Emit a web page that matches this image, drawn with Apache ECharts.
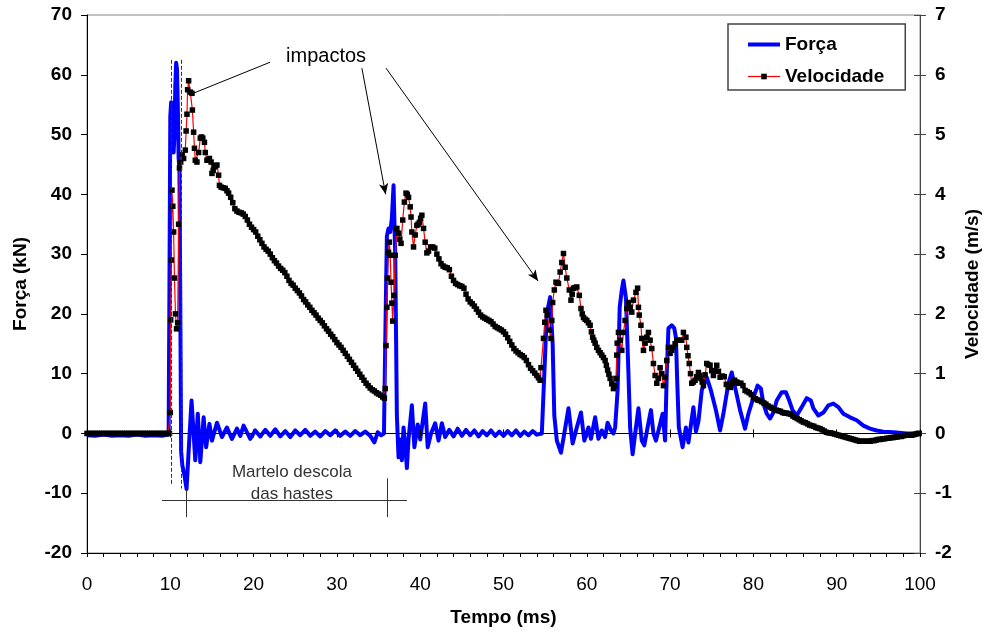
<!DOCTYPE html>
<html><head><meta charset="utf-8">
<script src="https://cdn.jsdelivr.net/npm/echarts@6/dist/echarts.min.js"></script>
<style>html,body{margin:0;padding:0;background:#fff}#c{width:986px;height:634px}</style>
</head><body><div id="c"></div>
<script>
const FONT = '"Liberation Sans", Arial, sans-serif';

// Tempo (ms), Força (kN)
const forcaData = [
[0,-0.3],[1,-0.4],[2,-0.2],[3,-0.4],[4,-0.3],[5,-0.4],[6,-0.2],[7,-0.4],[8,-0.3],[9,-0.4],[9.8,-0.2],
[9.9,25],[10.0,53],[10.1,55.4],[10.2,55],[10.3,52],[10.4,47],[10.5,50],[10.6,58],[10.7,62],[10.8,61],[10.9,55],
[11.0,46],[11.1,44],[11.2,22],[11.3,-3],[11.45,-5.4],[11.7,-7],[11.95,-9.3],[12.2,-3],[12.55,5.5],[12.8,0],
[13.0,-4.5],[13.3,3.3],[13.6,-4.8],[14.0,2.7],[14.3,-2.3],[14.7,1.6],[15.0,-1.2],[15.6,1.8],[16.2,-0.6],[16.8,1.0],
[17.4,-0.9],[18.0,0.8],[18.4,-0.4],[18.8,1.3],[19.6,-0.9],[20.2,0.5],[20.8,-0.5],[21.4,0.6],[22.0,-0.4],[22.6,0.7],
[23.2,-0.5],[23.8,0.4],[24.4,-0.6],[25.0,0.5],[25.6,-0.3],[26.2,0.6],[26.8,-0.4],[27.4,0.3],[28.0,-0.5],[28.6,0.4],
[29.2,-0.3],[29.8,0.5],[30.4,-0.4],[31.0,0.3],[31.6,-0.4],[32.2,0.4],[32.8,-0.3],[33.4,0.3],[34.0,-0.4],[34.5,-1.5],
[34.9,0.2],[35.3,-0.3],[35.65,0],[35.8,15],[36.0,33],[36.2,34.3],[36.4,33.7],[36.6,36],[36.8,41.5],[37.0,30],
[37.2,3],[37.4,-4],[37.6,-1],[37.8,-4.5],[38.0,1],[38.2,-2],[38.4,-5.8],[38.6,-1],[39.0,4.7],[39.3,-2.3],[39.7,1.5],
[40.0,-1],[40.6,5.0],[40.9,-2.3],[41.3,0],[41.8,1.7],[42.2,-1.2],[42.6,1.7],[43.0,-0.6],[43.5,0.6],[44.0,-0.5],
[44.5,0.8],[45.0,-0.4],[45.5,0.6],[46.0,-0.3],[46.5,0.5],[47.0,-0.5],[47.5,0.4],[48.0,-0.3],[48.5,0.5],[49.0,-0.4],
[49.5,0.3],[50.0,-0.4],[50.5,0.4],[51.0,-0.3],[51.5,0.5],[52.0,-0.4],[52.5,0.3],[53.0,-0.3],[53.5,0.4],[54.0,-0.2],
[54.6,0],[54.9,10],[55.2,20],[55.6,22.8],[55.9,15],[56.1,3],[56.4,-1.2],[56.9,-3.2],[57.3,0],[57.8,4.2],[58.3,-1.7],
[58.8,1],[59.3,3.5],[59.7,-1.2],[60.2,1.0],[60.5,-0.9],[61.0,2.7],[61.4,-0.9],[61.8,0.5],[62.2,-0.6],[62.5,1.8],
[62.9,0.5],[63.2,0],[63.4,1],[63.7,7.2],[63.95,21.1],[64.2,24],[64.4,25.6],[64.7,22.6],[65.0,10],[65.2,1.0],
[65.5,-3.5],[65.9,1.0],[66.2,4.2],[66.6,-1.2],[66.9,-2],[67.3,1],[67.7,3.9],[68.0,0],[68.3,-1.2],[68.7,1],[69.1,3.3],
[69.4,-1.2],[69.6,10],[69.8,17.6],[70.2,18.1],[70.5,17.6],[70.7,16],[70.85,8.9],[71.05,1],[71.5,-2.3],[71.9,1],
[72.2,-1.5],[72.8,4.4],[73.1,0.3],[73.4,2],[73.8,7.2],[74.4,9.4],[74.9,7.2],[75.5,3.9],[76.0,0.5],[76.4,3.3],
[77.0,8.4],[77.4,10.2],[77.8,7.7],[78.4,3.9],[79.0,0.8],[79.4,3.3],[80.0,6],[80.5,8.0],[80.9,7.5],[81.2,5],[81.6,3.3],
[82.0,2.5],[82.4,3.5],[82.8,5.5],[83.4,6.9],[83.9,6.9],[84.3,5.5],[84.7,3.9],[85.2,3.0],[85.8,4.4],[86.4,5.9],
[86.9,5.5],[87.2,4.2],[87.8,3.0],[88.4,3.5],[89.0,4.7],[89.6,5.0],[90.2,4.4],[90.8,3.3],[91.6,2.7],[92.4,2.2],
[93.2,1.3],[94.0,0.8],[94.8,0.5],[95.6,0.3],[96.8,0.2],[98.4,0],[100,0]
];

// Tempo (ms), Velocidade (m/s)
const velocidadeData = [
[0,0],[0.25,0],[0.5,0],[0.75,0],[1,0],[1.25,0],[1.5,0],[1.75,0],[2,0],[2.25,0],[2.5,0],[2.75,0],[3,0],[3.25,0],
[3.5,0],[3.75,0],[4,0],[4.25,0],[4.5,0],[4.75,0],[5,0],[5.25,0],[5.5,0],[5.75,0],[6,0],[6.25,0],[6.5,0],[6.75,0],
[7,0],[7.25,0],[7.5,0],[7.75,0],[8,0],[8.25,0],[8.5,0],[8.75,0],[9,0],[9.25,0],[9.5,0],[9.75,0],[9.9,0],
[10.0,0.35],[10.05,1.9],[10.12,2.9],[10.2,4.07],[10.3,3.8],[10.4,3.37],[10.5,2.6],[10.62,2.0],[10.75,1.75],[10.88,1.85],
[11.0,3.5],[11.1,4.44],[11.25,4.54],[11.4,4.66],[11.6,4.6],[11.8,4.74],[11.9,5.06],[12.0,5.34],[12.08,5.75],[12.2,5.9],
[12.4,5.71],[12.6,5.69],[12.65,5.41],[12.8,5.04],[12.9,4.77],[13.0,4.57],[13.2,4.54],[13.4,4.7],[13.6,4.94],[13.75,4.96],
[13.9,4.94],[14.1,4.87],[14.2,4.7],[14.4,4.57],[14.55,4.58],[14.7,4.6],[14.9,4.54],[15.0,4.35],[15.15,4.4],[15.3,4.46],
[15.45,4.48],[15.6,4.49],[15.8,4.32],[15.9,4.15],[16.1,4.12],[16.35,4.11],[16.6,4.1],[16.8,4.06],[17.0,4.02],
[17.25,3.95],[17.5,3.86],[17.75,3.76],[18.0,3.72],[18.25,3.70],[18.5,3.69],[18.75,3.67],[19.0,3.63],[19.25,3.57],
[19.5,3.5],[19.75,3.45],[20.0,3.41],[20.25,3.37],[20.5,3.3],[20.75,3.24],[21.0,3.18],[21.25,3.12],[21.5,3.08],
[21.75,3.05],[22.0,3.0],[22.25,2.94],[22.5,2.89],[22.75,2.85],[23.0,2.8],[23.25,2.76],[23.5,2.73],[23.75,2.69],
[24.0,2.63],[24.25,2.56],[24.5,2.51],[24.75,2.48],[25.0,2.43],[25.25,2.39],[25.5,2.35],[25.75,2.3],[26.0,2.24],
[26.25,2.2],[26.5,2.15],[26.75,2.11],[27.0,2.06],[27.25,2.02],[27.5,1.98],[27.75,1.93],[28.0,1.89],[28.25,1.85],
[28.5,1.8],[28.75,1.75],[29.0,1.71],[29.25,1.66],[29.5,1.62],[29.75,1.57],[30.0,1.52],[30.25,1.48],[30.5,1.44],
[30.75,1.39],[31.0,1.34],[31.25,1.29],[31.5,1.24],[31.75,1.19],[32.0,1.14],[32.25,1.09],[32.5,1.04],[32.75,0.99],
[33.0,0.94],[33.25,0.89],[33.5,0.84],[33.75,0.8],[34.0,0.76],[34.25,0.73],[34.5,0.71],[34.75,0.68],[35.0,0.66],
[35.25,0.64],[35.5,0.61],[35.7,0.59],
[35.8,0.75],[35.9,1.47],[36.0,2.11],[36.07,2.6],[36.2,3.03],[36.3,3.2],[36.4,2.98],[36.5,2.53],[36.6,2.18],[36.7,1.88],
[36.85,2.31],[37.0,2.98],[37.2,3.43],[37.4,3.35],[37.55,3.25],[37.7,3.18],[37.9,3.57],[38.1,3.87],[38.3,4.02],[38.45,4.0],
[38.6,3.95],[38.8,3.79],[38.9,3.62],[39.0,3.37],[39.2,3.12],[39.4,3.32],[39.6,3.48],[39.75,3.5],[39.9,3.53],[40.05,3.6],
[40.2,3.65],[40.4,3.43],[40.6,3.2],[40.8,3.02],[41.0,3.05],[41.25,3.12],[41.5,3.12],[41.75,3.1],[42.0,3.0],[42.25,2.92],
[42.5,2.84],[42.75,2.8],[43.0,2.78],[43.25,2.77],[43.5,2.74],[43.75,2.63],[44.0,2.56],[44.25,2.51],[44.5,2.49],
[44.75,2.47],[45.0,2.46],[45.25,2.43],[45.5,2.33],[45.75,2.25],[46.0,2.2],[46.25,2.17],[46.5,2.13],[46.75,2.08],
[47.0,2.03],[47.25,1.98],[47.5,1.95],[47.75,1.93],[48.0,1.91],[48.25,1.89],[48.5,1.87],[48.75,1.83],[49.0,1.79],
[49.25,1.77],[49.5,1.75],[49.75,1.73],[50.0,1.7],[50.25,1.66],[50.5,1.6],[50.75,1.54],[51.0,1.48],[51.25,1.42],
[51.5,1.38],[51.75,1.35],[52.0,1.32],[52.25,1.3],[52.5,1.27],[52.75,1.22],[53.0,1.15],[53.25,1.09],[53.5,1.05],
[53.75,1.01],[54.0,0.97],[54.2,0.93],[54.4,0.89],
[54.5,1.1],[54.8,1.59],[54.95,1.86],[55.1,2.06],[55.25,1.98],[55.5,1.73],[55.7,1.59],[55.8,1.89],[55.9,2.19],[56.1,2.4],
[56.3,2.53],[56.45,2.52],[56.6,2.51],[56.8,2.7],[57.0,2.86],[57.2,3.01],[57.4,2.78],[57.6,2.6],[57.9,2.4],[58.1,2.23],
[58.25,2.33],[58.4,2.43],[58.6,2.44],[58.8,2.45],[59.1,2.31],[59.3,2.09],[59.45,2.0],[59.6,1.94],[59.8,1.91],[60.0,1.89],
[60.2,1.85],[60.4,1.81],[60.55,1.7],[60.7,1.61],[60.85,1.56],[61.0,1.51],[61.2,1.44],[61.4,1.39],[61.6,1.35],[61.8,1.31],
[62.0,1.27],[62.2,1.22],[62.35,1.14],[62.5,1.06],[62.65,0.99],[62.8,0.92],[63.0,0.83],[63.2,0.75],[63.35,0.8],[63.5,0.92],
[63.6,1.31],[63.65,1.51],[63.8,1.69],[64.0,1.56],[64.2,1.39],[64.4,1.69],[64.6,1.89],[64.8,2.09],[65.0,2.19],[65.2,2.11],
[65.4,2.03],[65.6,2.23],[65.9,2.36],[66.1,2.43],[66.2,2.11],[66.3,1.98],[66.5,1.81],[66.6,1.59],[66.8,1.39],[67.0,1.51],
[67.2,1.61],[67.4,1.69],[67.6,1.56],[67.8,1.42],[68.0,1.17],[68.2,0.97],[68.4,0.84],[68.6,0.92],[68.8,1.1],[69.0,1.0],
[69.2,0.8],[69.4,0.94],[69.6,1.22],[69.8,1.44],[70.0,1.34],[70.2,1.39],[70.4,1.44],[70.6,1.5],[70.8,1.56],[71.1,1.56],
[71.4,1.56],[71.6,1.69],[71.9,1.61],[72.0,1.44],[72.15,1.3],[72.3,1.17],[72.45,1.0],[72.6,0.84],[72.8,0.86],[73.0,0.89],
[73.2,0.95],[73.4,1.02],[73.55,0.97],[73.7,0.92],[73.85,0.86],[74.0,0.8],[74.2,0.98],[74.4,1.17],[74.6,1.15],[74.8,1.14],
[75.0,1.05],[75.2,0.97],[75.4,1.05],[75.6,1.14],[75.8,1.04],[76.0,0.94],[76.25,0.96],[76.5,0.95],[76.75,0.82],
[77.0,0.78],[77.25,0.77],[77.5,0.85],[77.75,0.89],[78.0,0.86],[78.25,0.84],[78.5,0.84],[78.75,0.8],[79.0,0.72],
[79.25,0.7],[79.5,0.68],[79.75,0.65],[80.0,0.6],[80.25,0.58],[80.5,0.56],[80.75,0.55],[81.0,0.53],[81.25,0.51],
[81.5,0.49],[81.75,0.46],[82.0,0.44],[82.25,0.42],[82.5,0.4],[82.75,0.39],[83.0,0.38],[83.25,0.37],[83.5,0.35],
[83.75,0.34],[84.0,0.34],[84.25,0.33],[84.5,0.32],[84.75,0.29],[85.0,0.27],[85.25,0.25],[85.5,0.23],[85.75,0.21],
[86.0,0.19],[86.25,0.18],[86.5,0.16],[86.75,0.14],[87.0,0.13],[87.25,0.12],[87.5,0.1],[87.75,0.09],[88.0,0.08],
[88.25,0.06],[88.5,0.04],[88.75,0.02],[89.0,0.01],[89.25,0.01],[89.5,0.0],[89.75,-0.01],[90.0,-0.02],[90.25,-0.03],
[90.5,-0.04],[90.75,-0.05],[91.0,-0.06],[91.25,-0.07],[91.5,-0.08],[91.75,-0.09],[92.0,-0.1],[92.25,-0.11],
[92.5,-0.12],[92.75,-0.13],[93.0,-0.13],[93.25,-0.13],[93.5,-0.13],[93.75,-0.13],[94.0,-0.13],[94.25,-0.12],
[94.5,-0.12],[94.75,-0.11],[95.0,-0.1],[95.25,-0.1],[95.5,-0.09],[95.75,-0.09],[96.0,-0.08],[96.25,-0.08],
[96.5,-0.07],[96.75,-0.07],[97.0,-0.06],[97.25,-0.06],[97.5,-0.05],[97.75,-0.05],[98.0,-0.04],[98.25,-0.03],
[98.5,-0.03],[98.75,-0.03],[99.0,-0.03],[99.25,-0.02],[99.5,-0.01],[99.75,0.0],[99.9,0.0]
];

const seriesNames = ['Força', 'Velocidade'];
const axisNames = { x: 'Tempo (ms)', yLeft: 'Força (kN)', yRight: 'Velocidade (m/s)' };
const annotationTexts = { impactos: 'impactos', martelo1: 'Martelo descola', martelo2: 'das hastes' };

const chart = echarts.init(document.getElementById('c'), null, { renderer: 'canvas' });

const baseLabel = { fontFamily: FONT, color: '#000', fontSize: 19 };
const dashed = { type: 'dashed', color: '#333', width: 1 };
const solid = { type: 'solid', color: '#333', width: 1 };
const arrowLine = { type: 'solid', color: '#000', width: 1 };

function seg(a, b, style, arrow) {
  return [
    { coord: a, symbol: 'none', lineStyle: style },
    { coord: b, symbol: arrow ? 'arrow' : 'none', symbolSize: [7, 11] }
  ];
}

chart.setOption({
  animation: false,
  backgroundColor: '#fff',
  grid: { left: 87, right: 66, top: 15, bottom: 81, show: true, borderColor: '#888', borderWidth: 1, backgroundColor: 'transparent', outerBoundsMode: 'none' },
  legend: {
    data: [
      { name: seriesNames[0], itemStyle: { opacity: 0 }, lineStyle: { width: 4, color: '#0000FF' } },
      { name: seriesNames[1], lineStyle: { width: 1.2, color: '#FF0000' } }
    ],
    orient: 'vertical', left: 728, top: 24,
    padding: [11, 21, 4, 18], itemGap: 13, itemWidth: 32, itemHeight: 7,
    backgroundColor: '#fff', borderColor: '#444', borderWidth: 1.5, borderRadius: 0,
    textStyle: { fontFamily: FONT, fontWeight: 'bold', fontSize: 19, color: '#000' },
    selectedMode: false
  },
  xAxis: [
    {
      type: 'value', min: 0, max: 100, interval: 10, position: 'bottom',
      axisLine: { show: true, onZero: false, lineStyle: { color: '#000', width: 1 } },
      axisTick: { show: true, length: 4, lineStyle: { color: '#000' } },
      minorTick: { show: true, splitNumber: 5, length: 4, lineStyle: { color: '#000' } },
      splitLine: { show: false }, minorSplitLine: { show: false },
      axisLabel: Object.assign({ margin: 22 }, baseLabel),
      name: axisNames.x, nameLocation: 'middle', nameGap: 55,
      nameTextStyle: { fontFamily: FONT, fontWeight: 'bold', fontSize: 19, color: '#000' }
    },
    {
      type: 'value', min: 0, max: 100, interval: 10, position: 'top', z: 3,
      axisLine: { show: true, onZero: true, onZeroAxisIndex: 0, lineStyle: { color: '#000', width: 1 } },
      axisTick: { show: true, inside: false, length: 4, lineStyle: { color: '#000' } },
      axisLabel: { show: false }, splitLine: { show: false }
    },
    {
      type: 'value', min: 0, max: 100, interval: 10, position: 'top', z: 3,
      axisLine: { show: false, onZero: true, onZeroAxisIndex: 0 },
      axisTick: { show: true, inside: true, length: 4, lineStyle: { color: '#000' } },
      axisLabel: { show: false }, splitLine: { show: false }
    }
  ],
  yAxis: [
    {
      type: 'value', min: -20, max: 70, interval: 10, position: 'left',
      axisLine: { show: true, onZero: false, lineStyle: { color: '#000', width: 1 } },
      axisTick: { show: true, length: 6, lineStyle: { color: '#000' } },
      axisLabel: Object.assign({ margin: 15, fontWeight: 'bold' }, baseLabel),
      splitLine: { show: false },
      name: axisNames.yLeft, nameLocation: 'middle', nameGap: 57, nameRotate: 90,
      nameTextStyle: { fontFamily: FONT, fontWeight: 'bold', fontSize: 19, color: '#000' }
    },
    {
      type: 'value', min: -2, max: 7, interval: 1, position: 'right',
      axisLine: { show: true, onZero: false, lineStyle: { color: '#444', width: 1 } },
      axisTick: { show: true, length: 6, lineStyle: { color: '#444' } },
      axisLabel: Object.assign({ margin: 15, fontWeight: 'bold' }, baseLabel),
      splitLine: { show: false },
      name: axisNames.yRight, nameLocation: 'middle', nameGap: 40, nameRotate: 90,
      nameTextStyle: { fontFamily: FONT, fontWeight: 'bold', fontSize: 19, color: '#000' }
    },
    {
      type: 'value', min: -2, max: 7, interval: 1, position: 'right',
      axisLine: { show: false, onZero: false },
      axisTick: { show: true, inside: true, length: 6, lineStyle: { color: '#444' } },
      axisLabel: { show: false }, splitLine: { show: false }
    }
  ],
  series: [
    {
      name: seriesNames[0], type: 'line', xAxisIndex: 0, yAxisIndex: 0, z: 2,
      data: forcaData, symbol: 'none', smooth: false,
      lineStyle: { color: '#0000FF', width: 4, join: 'round' },
      itemStyle: { color: '#0000FF' },
      emphasis: { disabled: true },
      markLine: {
        silent: true, animation: false, label: { show: false }, emphasis: { disabled: true },
        data: [
          seg([10.07, 62.5], [10.07, -8.7], dashed, false),
          seg([11.27, 62.5], [11.27, -9.2], dashed, false),
          seg([9.0, -11.2], [38.4, -11.2], solid, false),
          seg([11.9, -9.5], [11.9, -14.0], solid, false),
          seg([36.1, -7.5], [36.1, -14.0], solid, false),
          seg([21.98, 62.1], [12.75, 56.9], arrowLine, false),
          seg([33.0, 61.1], [35.85, 40.0], arrowLine, true),
          seg([35.9, 61.1], [54.15, 25.5], arrowLine, true)
        ]
      }
    },
    {
      name: seriesNames[1], type: 'line', xAxisIndex: 0, yAxisIndex: 1, z: 4,
      data: velocidadeData, symbol: 'rect', symbolSize: 5.5, showSymbol: true, showAllSymbol: true,
      lineStyle: { color: '#FF0000', width: 1.2 },
      itemStyle: { color: '#000' },
      emphasis: { disabled: true }
    }
  ]
});

function px(t, f) { return chart.convertToPixel({ xAxisIndex: 0, yAxisIndex: 0 }, [t, f]); }
const pImp = px(28.7, 63.0), pM1 = px(24.6, -6.5), pM2 = px(24.6, -10.1);
chart.setOption({
  graphic: [
    { type: 'text', x: pImp[0], y: pImp[1], z: 10, style: { text: annotationTexts.impactos, fontFamily: FONT, fontSize: 20, fill: '#000', align: 'center', verticalAlign: 'middle' } },
    { type: 'text', x: pM1[0], y: pM1[1], z: 10, style: { text: annotationTexts.martelo1, fontFamily: FONT, fontSize: 17, fill: '#333', align: 'center', verticalAlign: 'middle' } },
    { type: 'text', x: pM2[0], y: pM2[1], z: 10, style: { text: annotationTexts.martelo2, fontFamily: FONT, fontSize: 17, fill: '#333', align: 'center', verticalAlign: 'middle' } }
  ]
});
</script></body></html>
